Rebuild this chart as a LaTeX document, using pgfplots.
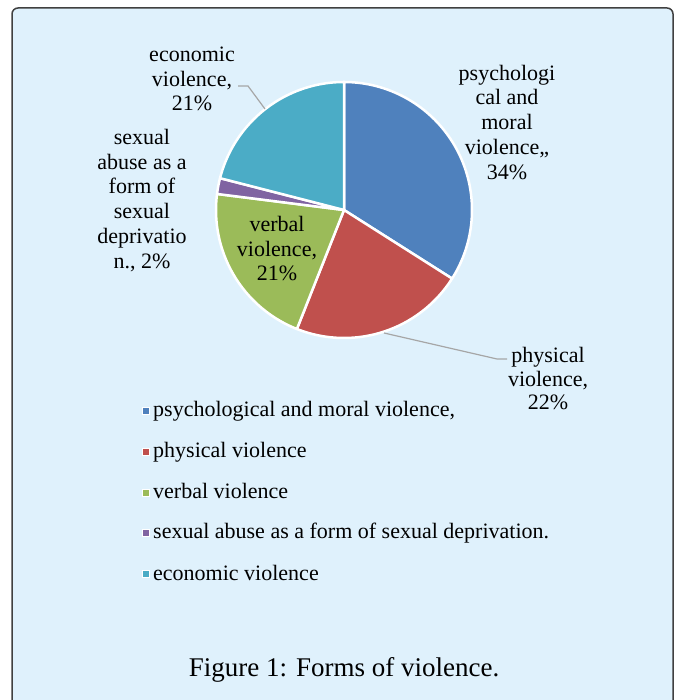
\documentclass[border=0pt]{standalone}
\usepackage{fontspec}
\setmainfont{Liberation Serif}
\usepackage{pgfplots}
\usepackage{pgfplotstable}
\pgfplotsset{compat=1.18}
\definecolor{cpsy}{HTML}{4F81BD}
\definecolor{cphy}{HTML}{C0504D}
\definecolor{cver}{HTML}{9BBB59}
\definecolor{csex}{HTML}{8064A2}
\definecolor{ceco}{HTML}{4BACC6}
\definecolor{bgblue}{HTML}{DFF1FC}
\definecolor{boxgray}{HTML}{404040}
\definecolor{leader}{HTML}{A6A6A6}
% shares (percent)
\pgfmathsetmacro\vA{34}
\pgfmathsetmacro\vB{22}
\pgfmathsetmacro\vC{21}
\pgfmathsetmacro\vD{2}
\pgfmathsetmacro\vE{21}
\pgfmathsetmacro\aA{90}
\pgfmathsetmacro\aB{\aA-3.6*\vA}
\pgfmathsetmacro\aC{\aB-3.6*\vB}
\pgfmathsetmacro\aD{\aC-3.6*\vC}
\pgfmathsetmacro\aE{\aD-3.6*\vD}
\pgfmathsetmacro\aF{\aE-3.6*\vE}
\newcommand\lfont{\fontsize{22}{24.5}\selectfont}
\begin{document}
\begin{tikzpicture}
\useasboundingbox (0,0) rectangle (676pt,700pt);
\clip (0,0) rectangle (676pt,700pt);
\begin{axis}[width=676pt,height=700pt,scale only axis,
  xmin=0,xmax=676,ymin=0,ymax=700,hide axis,clip=false]
\draw[line width=1.5pt, draw=boxgray, fill=bgblue, rounded corners=6pt]
  (axis cs:12,692) rectangle (axis cs:673,-20);
% pie slices
\addplot[fill=cpsy, draw=white, line width=2.5pt, line join=round, domain=\aB:\aA, samples=90]
  ({344+128*cos(x)},{490+128*sin(x)}) -- (axis cs:344,490) -- cycle;
\addplot[fill=cphy, draw=white, line width=2.5pt, line join=round, domain=\aC:\aB, samples=60]
  ({344+128*cos(x)},{490+128*sin(x)}) -- (axis cs:344,490) -- cycle;
\addplot[fill=cver, draw=white, line width=2.5pt, line join=round, domain=\aD:\aC, samples=60]
  ({344+128*cos(x)},{490+128*sin(x)}) -- (axis cs:344,490) -- cycle;
\addplot[fill=csex, draw=white, line width=2.5pt, line join=round, domain=\aE:\aD, samples=10]
  ({344+128*cos(x)},{490+128*sin(x)}) -- (axis cs:344,490) -- cycle;
\addplot[fill=ceco, draw=white, line width=2.5pt, line join=round, domain=\aF:\aE, samples=60]
  ({344+128*cos(x)},{490+128*sin(x)}) -- (axis cs:344,490) -- cycle;
% leader lines
\addplot[leader, line width=1.2pt] coordinates {(238,614) (248,614) (265,591)};
\addplot[leader, line width=1.2pt] coordinates {(384,367) (497,341) (507,341)};
% data labels
\begin{scope}[every node/.style={anchor=base, inner sep=0pt, font=\lfont}]
\node at (axis cs:192,638) {economic};
\node at (axis cs:192,613.5) {violence,};
\node at (axis cs:192,589) {21\%};
\node at (axis cs:142,555) {sexual};
\node at (axis cs:142,530) {abuse as a};
\node at (axis cs:142,506) {form of};
\node at (axis cs:142,481) {sexual};
\node at (axis cs:142,456) {deprivatio};
\node at (axis cs:142,431) {n., 2\%};
\node at (axis cs:277,468) {verbal};
\node at (axis cs:277,443) {violence,};
\node at (axis cs:277,419) {21\%};
\node at (axis cs:507,619.3) {psychologi};
\node at (axis cs:507,595) {cal and};
\node at (axis cs:507,570) {moral};
\node at (axis cs:507,545) {violence,,};
\node at (axis cs:507,520) {34\%};
\node at (axis cs:548,337) {physical};
\node at (axis cs:548,313.3) {violence,};
\node at (axis cs:548,290) {22\%};
\end{scope}
% legend
\addplot[only marks, mark=square*, mark size=3.8pt, mark options={fill=cpsy, draw=white, line width=1pt}] coordinates {(146,289)};
\addplot[only marks, mark=square*, mark size=3.8pt, mark options={fill=cphy, draw=white, line width=1pt}] coordinates {(146,248)};
\addplot[only marks, mark=square*, mark size=3.8pt, mark options={fill=cver, draw=white, line width=1pt}] coordinates {(146,207)};
\addplot[only marks, mark=square*, mark size=3.8pt, mark options={fill=csex, draw=white, line width=1pt}] coordinates {(146,167)};
\addplot[only marks, mark=square*, mark size=3.8pt, mark options={fill=ceco, draw=white, line width=1pt}] coordinates {(146,126)};
\begin{scope}[every node/.style={anchor=base west, inner sep=0pt, font=\lfont}]
\node at (axis cs:153,283) {psychological and moral violence,};
\node at (axis cs:153,242) {physical violence};
\node at (axis cs:153,201) {verbal violence};
\node at (axis cs:153,161) {sexual abuse as a form of sexual deprivation.};
\node at (axis cs:153,119.5) {economic violence};
\end{scope}
% caption
\node[anchor=base, inner sep=0pt, font=\fontsize{27}{30}\selectfont] at (axis cs:344,23.3) {Figure 1: Forms of violence.};
\end{axis}
\end{tikzpicture}
\end{document}
